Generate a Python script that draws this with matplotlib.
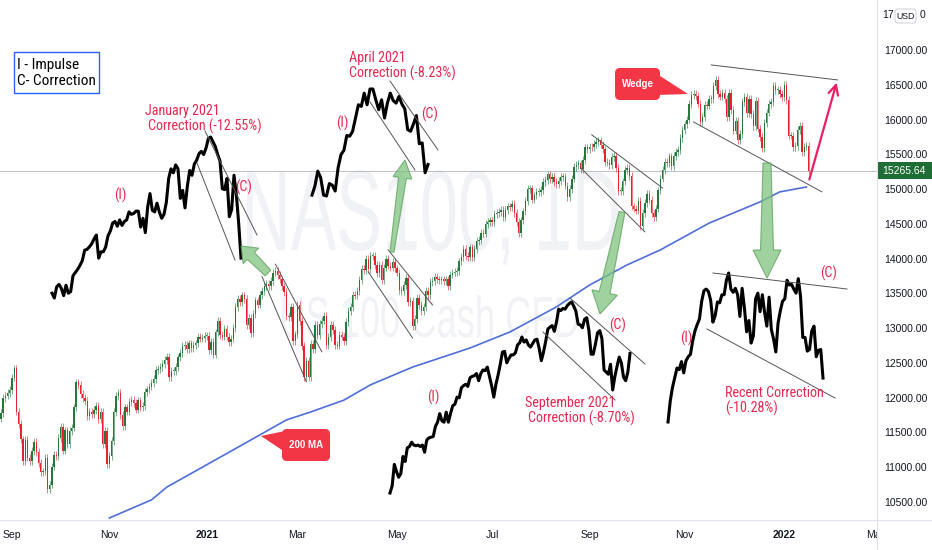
import numpy as np
import pandas as pd
import matplotlib
matplotlib.use("Agg")
import matplotlib.pyplot as plt
from matplotlib import font_manager
from matplotlib.font_manager import FontProperties
from matplotlib.textpath import TextPath
from matplotlib.patches import PathPatch, Polygon, FancyBboxPatch, Rectangle
from matplotlib.transforms import Affine2D

# ---- data: NAS100 daily closes, one list per month (business days) ----
start_day = "2020-08-25"
first_open = 11700

c_2020_08 = [11780, 12000, 12030, 12070, 12110]
c_2020_09 = [12290, 12420, 11800, 11620, 11400, 11090, 11390, 11140, 11090, 11230, 11370,
             11220, 11060, 10930, 10940, 11130, 10690, 10750, 11010, 11180, 11160, 11420]
c_2020_10 = [11580, 11240, 11530, 11330, 11520, 11570, 11860, 12220, 12180, 12050, 12000,
             11950, 11740, 11790, 11770, 11820, 11880, 11690, 11790, 11330, 11520, 11050]
c_2020_11 = [11160, 11380, 11790, 12020, 12070, 11750, 11590, 11860, 11800, 11940, 11970,
             11920, 11830, 11960, 11860, 11880, 12080, 12120, 12160, 12210, 12270]
c_2020_12 = [12400, 12410, 12440, 12480, 12540, 12590, 12300, 12380, 12380, 12440, 12580,
             12640, 12740, 12760, 12700, 12780, 12710, 12760, 12780, 12880, 12850, 12860, 12890]
c_2021_01 = [12890, 12690, 12800, 12620, 12940, 13110, 12900, 12880, 12990, 12880, 12800,
             12850, 13000, 13300, 13420, 13370, 13470, 13420, 13050, 13150, 12930]
c_2021_02 = [13200, 13400, 13340, 13480, 13530, 13610, 13640, 13600, 13680, 13800, 13820,
             13760, 13700, 13600, 13520, 13170, 13160, 13300, 12820, 12910]
c_2021_03 = [13340, 13100, 12740, 12300, 12530, 12300, 12770, 12700, 13050, 12900, 13060,
             13110, 13180, 12760, 12870, 13050, 12970, 12760, 12750, 12900, 12880, 12810, 13090]
c_2021_04 = [13250, 13300, 13480, 13470, 13530, 13690, 13850, 13830, 13990, 13850, 14040,
             14040, 13910, 13790, 13910, 13690, 13870, 13990, 13900, 13870, 13950, 13860]
c_2021_05 = [13800, 13550, 13530, 13620, 13720, 13380, 13390, 13030, 13130, 13430, 13330,
             13250, 13300, 13540, 13470, 13660, 13680, 13740, 13700, 13690, 13700]
c_2021_06 = [13680, 13700, 13600, 13770, 13800, 13810, 13820, 13960, 14020, 14140, 14040,
             14020, 14160, 14020, 14140, 14250, 14270, 14370, 14360, 14500, 14530, 14550]
c_2021_07 = [14520, 14640, 14660, 14670, 14700, 14600, 14700, 14750, 14740, 14790, 14660,
             14530, 14370, 14550, 14680, 14830, 15000, 15010, 14850, 14910, 14960, 14960]
c_2021_08 = [14990, 15100, 15130, 15210, 15140, 15170, 15100, 15070, 15120, 15170, 15180,
             15050, 14880, 15000, 15150, 15320, 15350, 15370, 15290, 15420, 15600, 15580]
c_2021_09 = [15610, 15600, 15650, 15680, 15700, 15640, 15570, 15390, 15380, 15340, 15460,
             15480, 15300, 14970, 14970, 15110, 15270, 15300, 15190, 14750, 14720, 14690]
c_2021_10 = [14830, 14470, 14660, 14800, 14930, 14850, 14650, 14600, 14720, 14980, 15150,
             15270, 15390, 15370, 15470, 15330, 15480, 15530, 15560, 15730, 15850]
c_2021_11 = [15930, 16000, 16220, 16350, 16370, 16340, 16230, 15960, 16040, 16210, 16200,
             16300, 16300, 16480, 16570, 16370, 16330, 16380, 16300, 16030, 16380, 16140]
c_2021_12 = [15840, 15980, 15700, 15790, 16250, 16320, 16090, 16300, 16080, 15910, 16270,
             15870, 15750, 15590, 15950, 16100, 16220, 16250, 16480, 16420, 16430, 16370, 16320]
c_2022_01 = [16500, 16280, 15770, 15770, 15600, 15620, 15850, 15910, 15530, 15610, 15620, 15265.64]

# 200-day moving average (bar index, value)
ma_bar = [49, 68, 75, 105, 117, 129, 140, 155, 167, 186, 212, 230, 251, 266, 283, 298,
          320, 343, 352, 364]
ma_val = [10270, 10530, 10715, 11250, 11465, 11680, 11795, 11965, 12185, 12440, 12715,
          12945, 13305, 13620, 13910, 14125, 14510, 14815, 14960, 15030]

last_price = 15265.64
price_ticks = [10500, 11000, 11500, 12000, 12500, 13000, 13500, 14000, 14500, 15000,
               15500, 16000, 16500, 17000]
month_starts = ["2020-09-01", "2020-11-01", "2021-01-01", "2021-03-01", "2021-05-01",
                "2021-07-01", "2021-09-01", "2021-11-01", "2022-01-01", "2022-03-01"]
month_labels = ["Sep", "Nov", "2021", "Mar", "May", "Jul", "Sep", "Nov", "2022", "Mar"]

# channel / trend lines on the main chart: ((bar, price), (bar, price))
main_lines = [
    ((124, 13920), (145, 12660)), ((118, 13740), (138, 12230)),
    ((175, 14125), (195, 13335)), ((166, 13810), (186, 12860)),
    ((267, 15780), (299, 15015)), ((262, 15305), (291, 14385)),
    ((321, 16785), (378, 16570)), ((313, 15965), (371, 14960)),
]

# zoomed line insets: date range and pixel box (x0, x1, top, bottom)
insets = [
    ("2020-11-11", "2021-03-04", (52, 241, 137, 298)),
    ("2021-03-18", "2021-05-13", (312, 428, 89, 196)),
    ("2021-05-12", "2021-10-14", (390, 630, 302, 493)),
    ("2021-10-13", "2022-01-18", (668, 823, 273, 422)),
]
inset_lines = [
    ((205, 131), (257, 235)), ((197, 163), (235, 260)),
    ((390, 81), (438, 150)), ((370, 102), (415, 170)),
    ((570, 298), (645, 364)), ((543, 332), (615, 400)),
    ((713, 273), (847, 289)), ((707, 329), (835, 398)),
]

closes = np.array(c_2020_08 + c_2020_09 + c_2020_10 + c_2020_11 + c_2020_12 + c_2021_01 +
                  c_2021_02 + c_2021_03 + c_2021_04 + c_2021_05 + c_2021_06 + c_2021_07 +
                  c_2021_08 + c_2021_09 + c_2021_10 + c_2021_11 + c_2021_12 + c_2022_01,
                  dtype=float)
opens = np.r_[first_open, closes[:-1]]
bars = np.arange(len(closes))


def bar_pos(day):
    return int(np.busday_count(start_day, day))


# ---- fonts ----
_names = {f.name for f in font_manager.fontManager.ttflist}


def pick_font(*cands):
    for c in cands:
        if c in _names:
            return c
    return None


SANS = pick_font("Liberation Sans", "Roboto", "Open Sans") or "DejaVu Sans"
NARROW = pick_font("Liberation Sans Narrow", "Roboto Condensed", "Open Sans Condensed")
NSCALE = 1.0
if NARROW is None:
    NARROW = SANS
    NSCALE = 0.82

RED_TXT = "#e62850"
CALLOUT = "#f23645"
UP = "#22793a"
DOWN = "#e8202f"
GRAY_LINE = "#e0e3eb"
TXT = "#131722"

W, H = 932, 550
fig = plt.figure(figsize=(W / 100, H / 100), dpi=100)
fig.patch.set_facecolor("white")


def pixel_axes(zorder):
    a = fig.add_axes([0, 0, 1, 1], zorder=zorder)
    a.set_xlim(0, W)
    a.set_ylim(H, 0)
    a.axis("off")
    a.patch.set_alpha(0)
    return a


# ---- background watermark ----
bg = pixel_axes(0)


def watermark(text, x0, x1, y_top, y_base, size_ref=100):
    tp = TextPath((0, 0), text, size=size_ref, prop=FontProperties(family=SANS))
    bb = tp.get_extents()
    sx = (x1 - x0) / bb.width
    sy = (y_base - y_top) / bb.y1
    tr = Affine2D().translate(-bb.x0, 0).scale(sx, -sy).translate(x0, y_base) + bg.transData
    bg.add_patch(PathPatch(tp, transform=tr, facecolor="#f1f2f5", edgecolor="none"))


watermark("NAS100, 1D", 247, 618, 170, 250)
watermark("US 100 Cash CFD", 282, 578, 295, 337)

# ---- main candlestick chart ----
ax = fig.add_axes([0, 30 / H, 877 / W, 520 / H], zorder=1)
ax.patch.set_alpha(0)
px_per_bar = 863 / 390
ax.set_xlim(5 - 12 / px_per_bar, 5 + 865 / px_per_bar)
ax.set_ylim(17000 - 470 / 0.06954, 17000 + 50 / 0.06954)

up = closes >= opens
col = np.where(up, UP, DOWN)
body = closes - opens
body = np.where(np.abs(body) < 12, np.where(up, 12, -12), body)
wick = 55
ax.vlines(bars, np.minimum(opens, closes) - wick, np.maximum(opens, closes) + wick,
          colors=col, linewidth=0.6, alpha=0.7, zorder=2)
ax.bar(bars, body, bottom=opens, width=0.62, color=col, linewidth=0, zorder=3)

ax.plot(ma_bar, ma_val, color="#4f6fd8", linewidth=1.2, zorder=4)
ax.axhline(last_price, color="#b2b5be", linewidth=0.6, zorder=1)

for (b0, p0), (b1, p1) in main_lines:
    ax.plot([b0, b1], [p0, p1], color="#555555", linewidth=0.7, zorder=5)

# pink target arrow
ax.annotate("", xy=(378, 16570), xytext=(365, 15100),
            arrowprops=dict(arrowstyle="->,head_length=0.7,head_width=0.35",
                            color="#e91e63", lw=1.6), zorder=6)

for s in ["top", "left", "right", "bottom"]:
    ax.spines[s].set_visible(False)

ax.yaxis.tick_right()
ax.set_yticks(price_ticks)
ax.set_yticklabels([f"{p:.2f}" for p in price_ticks], fontsize=7.5, color=TXT, family=SANS)
ax.tick_params(axis="y", length=0, pad=5)

ax.set_xticks([bar_pos(d) for d in month_starts])
ax.set_xticklabels(month_labels, fontsize=7.5, color=TXT, family=SANS)
for lab in ax.get_xticklabels():
    if lab.get_text().startswith("20"):
        lab.set_fontweight("bold")
ax.tick_params(axis="x", length=0, pad=7)

# ---- line insets (zoomed views of the same closes) ----
for d0, d1, (x0, x1, yt, yb) in insets:
    i0, i1 = bar_pos(d0), bar_pos(d1) + 1
    seg = closes[i0:i1]
    ia = fig.add_axes([x0 / W, (H - yb) / H, (x1 - x0) / W, (yb - yt) / H], zorder=2)
    ia.plot(bars[i0:i1], seg, color="black", linewidth=2.2, solid_joinstyle="round",
            clip_on=False)
    ia.set_xlim(bars[i0], bars[i1 - 1])
    ia.set_ylim(seg.min(), seg.max())
    ia.axis("off")
    ia.patch.set_alpha(0)

# ---- overlay annotations ----
ov = pixel_axes(3)

for (xa, ya), (xb, yb) in inset_lines:
    ov.plot([xa, xb], [ya, yb], color="#555555", linewidth=0.7)


def fat_arrow(tail, tip, w_tail, w_neck, head_w, head_len):
    t = np.array(tail, float)
    p = np.array(tip, float)
    d = p - t
    L = np.hypot(*d)
    u = d / L
    n = np.array([-u[1], u[0]])
    neck = p - u * head_len
    pts = [t + n * w_tail / 2, neck + n * w_neck / 2, neck + n * head_w / 2, p,
           neck - n * head_w / 2, neck - n * w_neck / 2, t - n * w_tail / 2]
    ov.add_patch(Polygon(pts, closed=True, facecolor="#7fc47f", alpha=0.75,
                         edgecolor="#5b9e5b", linewidth=0.8))


fat_arrow((268, 273), (241, 246), 8, 10, 22, 14)
fat_arrow((392, 252), (405, 160), 4, 8, 19, 18)
fat_arrow((622, 212), (600, 314), 6, 11, 26, 22)
fat_arrow((767, 163), (767, 278), 8, 13, 28, 28)

# axis borders
ov.plot([0, W], [519.5, 519.5], color=GRAY_LINE, linewidth=0.8)
ov.plot([876.5, 876.5], [0, H], color=GRAY_LINE, linewidth=0.8)
ov.add_patch(Rectangle((877.2, 520.2), 60, 30, facecolor="white", edgecolor="none"))

# last price tag
ov.add_patch(Rectangle((877, 162), 55, 17, facecolor="#1e6e35", edgecolor="none"))
ov.text(904, 170.5, f"{last_price:.2f}", color="white", fontsize=7.5, family=SANS,
        ha="center", va="center")

# currency box sitting over the 17500 tick (only its ends show)
ov.text(882, 15.5, "17", color=TXT, fontsize=7.5, family=SANS, ha="left", va="center")
ov.text(925, 15.5, "0", color=TXT, fontsize=7.5, family=SANS, ha="right", va="center")
ov.add_patch(FancyBboxPatch((895, 9), 21, 14, boxstyle="round,pad=0,rounding_size=3",
                            facecolor="white", edgecolor="#d1d4dc", linewidth=0.8))
ov.text(905.5, 16.5, "USD", color=TXT, fontsize=6.3, family=SANS, ha="center", va="center")

# legend box
ov.add_patch(Rectangle((14, 52), 85, 41, facecolor="white", edgecolor="#2962ff",
                       linewidth=1.0))
ov.text(17, 65, "I - Impulse", color="black", fontsize=11 * NSCALE, family=NARROW,
        ha="left", va="center")
ov.text(17, 81, "C- Correction", color="black", fontsize=11 * NSCALE, family=NARROW,
        ha="left", va="center")

# red wave labels
fs = 10.2 * NSCALE
red_labels = [
    (145, 111, "January 2021"), (148, 126, "Correction (-12.55%)"),
    (120, 195, "(I)"), (244, 187, "(C)"),
    (349, 58, "April 2021"), (349, 73, "Correction (-8.23%)"),
    (342, 123, "(I)"), (430, 114, "(C)"),
    (618, 325, "(C)"), (433, 397, "(I)"),
    (525, 403, "September 2021"), (528, 418, "Correction (-8.70%)"),
    (686, 338, "(I)"), (829, 273, "(C)"),
    (725, 393, "Recent Correction"), (725, 408, "(-10.28%)"),
]
for x, y, s in red_labels:
    ha = "center" if s in ("(I)", "(C)") else "left"
    ov.text(x, y, s, color=RED_TXT, fontsize=fs, family=NARROW, ha=ha, va="center")

# red callouts
ov.add_patch(Polygon([(657, 74), (688, 94), (657, 95)], closed=True,
                     facecolor=CALLOUT, edgecolor="none"))
ov.add_patch(FancyBboxPatch((615, 68), 45, 32, boxstyle="round,pad=0,rounding_size=5",
                            facecolor=CALLOUT, edgecolor="none"))
ov.text(638, 84, "Wedge", color="white", fontsize=7, fontweight="bold", family=SANS,
        ha="center", va="center")

ov.add_patch(Polygon([(285, 431), (261, 436), (285, 452)], closed=True,
                     facecolor=CALLOUT, edgecolor="none"))
ov.add_patch(FancyBboxPatch((282, 429), 48, 32, boxstyle="round,pad=0,rounding_size=5",
                            facecolor=CALLOUT, edgecolor="none"))
ov.text(306, 445, "200 MA", color="white", fontsize=7, fontweight="bold", family=SANS,
        ha="center", va="center")

fig.savefig("out.png", dpi=100, facecolor="white")
